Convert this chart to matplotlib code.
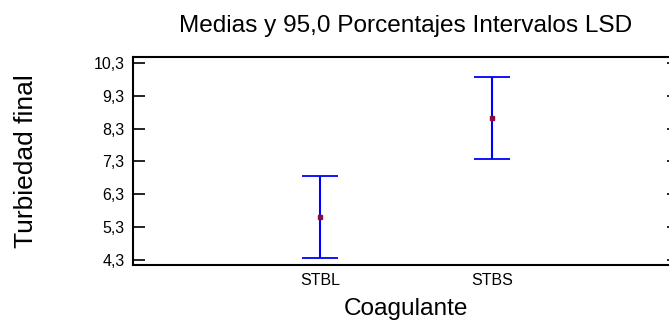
import numpy as np
import matplotlib.pyplot as plt
from matplotlib.ticker import FixedLocator, FuncFormatter

plt.rcParams["font.family"] = ["Liberation Sans", "DejaVu Sans"]

# medias e intervalos LSD (95%) por coagulante
coagulantes = ["STBL", "STBS"]
medias = [5.61, 8.635]
semiancho = [1.24, 1.25]
yticks = [4.3, 5.3, 6.3, 7.3, 8.3, 9.3, 10.3]

fig = plt.figure(figsize=(6.69, 3.22), dpi=100)
ax = fig.add_axes([0.1988, 0.177, 0.8162, 0.646])

x = np.arange(1, len(coagulantes) + 1)
ax.errorbar(x, medias, yerr=semiancho, fmt="none", ecolor="#0000ff",
            elinewidth=1.5, capsize=13, capthick=1.3)
ax.plot(x, medias, "s", color="#8b0a3c", markersize=3)

ax.set_xlim(1 - 0.3425 * 3.175, 1 + 0.6575 * 3.175)
ax.set_ylim(4.15, 10.48)
ax.set_xticks(x)
ax.set_xticklabels(coagulantes)
ax.yaxis.set_major_locator(FixedLocator(yticks))
ax.yaxis.set_major_formatter(FuncFormatter(lambda v, p: f"{v:.1f}".replace(".", ",")))

ax.tick_params(axis="y", direction="in", length=8.6, width=1.2, labelsize=11.5,
               right=True, pad=6)
ax.tick_params(axis="x", length=0, labelsize=11.5, pad=6)
for s in ax.spines.values():
    s.set_linewidth(1.5)

ax.set_title("Medias y 95,0 Porcentajes Intervalos LSD", fontsize=17.6, pad=18)
ax.set_xlabel("Coagulante", fontsize=17.6, labelpad=7)
ax.set_ylabel("Turbiedad final", fontsize=19, labelpad=40)

fig.savefig("out.png", dpi=100)
